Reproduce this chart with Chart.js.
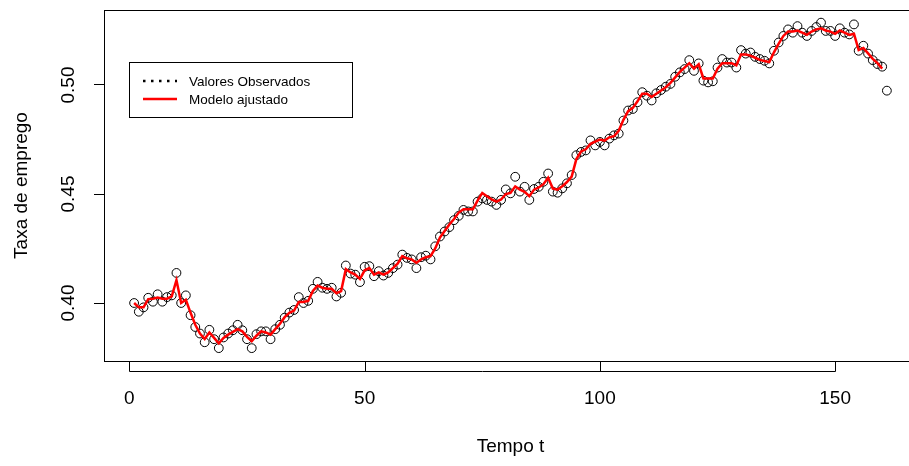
<!DOCTYPE html>
<html>
<head>
<meta charset="utf-8">
<script src="https://cdn.jsdelivr.net/npm/chart.js@4.4.1/dist/chart.umd.min.js"></script>
<style>
html, body { margin: 0; padding: 0; background: #fff; overflow: hidden; }
#wrap { width: 930px; height: 466px; }
</style>
</head>
<body>
<div id="wrap"><canvas id="chart" width="930" height="466"></canvas></div>
<script>
// taxa de emprego observada, t = 1..161
const observados = [
    0.4000, 0.3960, 0.3980, 0.4024, 0.4006, 0.4040, 0.4006, 0.4027, 0.4035, 0.4138,
    0.4000, 0.4035, 0.3944, 0.3890, 0.3860, 0.3820, 0.3877, 0.3834, 0.3793, 0.3842,
    0.3860, 0.3875, 0.3900, 0.3875, 0.3834, 0.3793, 0.3857, 0.3870, 0.3870, 0.3834,
    0.3880, 0.3900, 0.3933, 0.3956, 0.3968, 0.4027, 0.4000, 0.4010, 0.4065, 0.4097,
    0.4070, 0.4065, 0.4070, 0.4030, 0.4047, 0.4172, 0.4135, 0.4130, 0.4096, 0.4166,
    0.4169, 0.4123, 0.4146, 0.4126, 0.4138, 0.4160, 0.4176, 0.4222, 0.4207, 0.4200,
    0.4160, 0.4210, 0.4217, 0.4200, 0.4260, 0.4305, 0.4328, 0.4348, 0.4380, 0.4400,
    0.4427, 0.4420, 0.4420, 0.4465, 0.4480, 0.4473, 0.4465, 0.4450, 0.4473, 0.4521,
    0.4503, 0.4579, 0.4511, 0.4533, 0.4473, 0.4523, 0.4533, 0.4556, 0.4594, 0.4511,
    0.4506, 0.4526, 0.4549, 0.4587, 0.4678, 0.4693, 0.4700, 0.4746, 0.4723, 0.4739,
    0.4723, 0.4754, 0.4769, 0.4777, 0.4837, 0.4883, 0.4890, 0.4921, 0.4967, 0.4951,
    0.4929, 0.4962, 0.4977, 0.4992, 0.5005, 0.5038, 0.5058, 0.5073, 0.5114, 0.5065,
    0.5099, 0.5020, 0.5012, 0.5017, 0.5080, 0.5119, 0.5103, 0.5103, 0.5080, 0.5160,
    0.5144, 0.5149, 0.5129, 0.5119, 0.5111, 0.5099, 0.5157, 0.5195, 0.5225, 0.5255,
    0.5240, 0.5270, 0.5240, 0.5225, 0.5248, 0.5266, 0.5286, 0.5248, 0.5248, 0.5225,
    0.5260, 0.5240, 0.5232, 0.5278, 0.5157, 0.5180, 0.5144, 0.5114, 0.5096, 0.5084,
    0.4974
];

// modelo ajustado, t = 1..160 (a linha termina antes do ultimo ponto)
const ajustado = [
    0.4000, 0.3980, 0.3980, 0.4018, 0.4020, 0.4025, 0.4020, 0.4020, 0.4030, 0.4105,
    0.4000, 0.4015, 0.3955, 0.3900, 0.3860, 0.3835, 0.3865, 0.3840, 0.3815, 0.3840,
    0.3855, 0.3868, 0.3880, 0.3870, 0.3845, 0.3825, 0.3850, 0.3870, 0.3865, 0.3855,
    0.3880, 0.3905, 0.3935, 0.3955, 0.3965, 0.4005, 0.4005, 0.4010, 0.4055, 0.4080,
    0.4070, 0.4065, 0.4065, 0.4045, 0.4055, 0.4155, 0.4140, 0.4130, 0.4110, 0.4150,
    0.4160, 0.4130, 0.4140, 0.4130, 0.4140, 0.4160, 0.4180, 0.4215, 0.4205, 0.4200,
    0.4185, 0.4200, 0.4210, 0.4215, 0.4250, 0.4300, 0.4330, 0.4360, 0.4385, 0.4415,
    0.4430, 0.4430, 0.4430, 0.4470, 0.4505, 0.4490, 0.4475, 0.4465, 0.4475, 0.4500,
    0.4505, 0.4535, 0.4520, 0.4510, 0.4490, 0.4520, 0.4530, 0.4545, 0.4575, 0.4525,
    0.4520, 0.4535, 0.4555, 0.4580, 0.4660, 0.4695, 0.4705, 0.4730, 0.4740, 0.4750,
    0.4745, 0.4760, 0.4765, 0.4790, 0.4840, 0.4880, 0.4895, 0.4925, 0.4960, 0.4960,
    0.4945, 0.4960, 0.4975, 0.4990, 0.5010, 0.5035, 0.5060, 0.5080, 0.5100, 0.5075,
    0.5095, 0.5030, 0.5030, 0.5030, 0.5075, 0.5100, 0.5100, 0.5100, 0.5090, 0.5140,
    0.5140, 0.5135, 0.5125, 0.5115, 0.5110, 0.5105, 0.5150, 0.5190, 0.5225, 0.5245,
    0.5245, 0.5250, 0.5240, 0.5230, 0.5245, 0.5255, 0.5260, 0.5250, 0.5245, 0.5235,
    0.5250, 0.5240, 0.5230, 0.5235, 0.5160, 0.5170, 0.5145, 0.5120, 0.5100, 0.5075
];

const xTicks = [0, 50, 100, 150];
const yTicks = [0.40, 0.45, 0.50];
const yTickLabels = ["0.40", "0.45", "0.50"];
const legendLabels = ["Valores Observados", "Modelo ajustado"];

const FONT = "'Liberation Sans', Arial, sans-serif";

// caixa em volta da area do grafico, eixos estilo R e legenda
const rStyle = {
    id: "rStyle",
    afterDraw(chart) {
        const ctx = chart.ctx;
        const area = chart.chartArea;
        const xs = chart.scales.x;
        const ys = chart.scales.y;

        ctx.save();
        ctx.strokeStyle = "#000";
        ctx.lineWidth = 1;
        ctx.strokeRect(Math.round(area.left) + 0.5, Math.round(area.top) + 0.5,
            Math.round(area.right - area.left), Math.round(area.bottom - area.top));

        // eixo x
        let axisY = 371.5;
        let x0 = Math.round(xs.getPixelForValue(xTicks[0])) + 0.5;
        let x1 = Math.round(xs.getPixelForValue(xTicks[xTicks.length - 1])) + 0.5;
        ctx.beginPath();
        ctx.moveTo(x0, axisY);
        ctx.lineTo(x1, axisY);
        for (let v of xTicks) {
            let px = Math.round(xs.getPixelForValue(v)) + 0.5;
            ctx.moveTo(px, axisY);
            ctx.lineTo(px, 362);
        }
        ctx.stroke();

        // rotulos do eixo y
        ctx.fillStyle = "#000";
        ctx.font = "19px " + FONT;
        ctx.textAlign = "center";
        ctx.textBaseline = "middle";
        for (let i = 0; i < yTicks.length; i++) {
            let py = ys.getPixelForValue(yTicks[i]);
            ctx.save();
            ctx.translate(69, py);
            ctx.rotate(-Math.PI / 2);
            ctx.fillText(yTickLabels[i], 0, 0);
            ctx.restore();
        }

        // legenda
        ctx.lineWidth = 1;
        ctx.strokeRect(129.5, 62.5, 223, 55);
        ctx.font = "13.5px " + FONT;
        ctx.textAlign = "left";
        const rows = [81, 99];
        chart.data.datasets.forEach((ds, i) => {
            ctx.beginPath();
            ctx.strokeStyle = ds.legendColor;
            ctx.lineWidth = 2.5;
            ctx.setLineDash(i == 0 ? [2.5, 5.5] : []);
            ctx.moveTo(143, rows[i]);
            ctx.lineTo(177, rows[i]);
            ctx.stroke();
            ctx.setLineDash([]);
            ctx.fillText(ds.label, 189, rows[i] + 1);
        });
        ctx.restore();
    },
};

const config = {
    type: "line",
    data: {
        datasets: [
            {
                label: legendLabels[0],
                data: observados.map((v, i) => ({ x: i + 1, y: v })),
                showLine: false,
                pointStyle: "circle",
                pointRadius: 4.4,
                pointBorderWidth: 1,
                pointBorderColor: "#000",
                pointBackgroundColor: "rgba(0,0,0,0)",
                legendColor: "#000",
                order: 1,
            },
            {
                label: legendLabels[1],
                data: ajustado.map((v, i) => ({ x: i + 1, y: v })),
                borderColor: "#ff0000",
                borderWidth: 2.5,
                pointRadius: 0,
                tension: 0,
                legendColor: "#ff0000",
                order: 0,
            },
        ],
    },
    options: {
        responsive: false,
        animation: false,
        events: [],
        layout: {
            padding: { top: 10, right: 13, left: 0, bottom: 0 },
        },
        plugins: {
            legend: { display: false },
            tooltip: { enabled: false },
        },
        scales: {
            x: {
                type: "linear",
                min: -5.4,
                max: 167.4,
                afterBuildTicks: (axis) => {
                    axis.ticks = xTicks.map((v) => ({ value: v }));
                },
                afterFit: (axis) => {
                    axis.height = 105;
                },
                grid: { display: false, drawTicks: false },
                border: { display: false },
                ticks: {
                    color: "#000",
                    font: { family: FONT, size: 19 },
                    padding: 26,
                    maxRotation: 0,
                },
                title: {
                    display: true,
                    text: "Tempo t",
                    color: "#000",
                    font: { family: FONT, size: 19 },
                    padding: { top: 0, bottom: 7.6 },
                },
            },
            y: {
                type: "linear",
                min: 0.3734,
                max: 0.5344,
                afterBuildTicks: (axis) => {
                    axis.ticks = yTicks.map((v) => ({ value: v }));
                },
                afterFit: (axis) => {
                    axis.width = 104;
                },
                grid: {
                    drawOnChartArea: false,
                    drawTicks: true,
                    tickLength: 10,
                    color: "#000",
                    lineWidth: 1,
                },
                border: { display: false },
                ticks: { display: false },
                title: {
                    display: true,
                    text: "Taxa de emprego",
                    color: "#000",
                    font: { family: FONT, size: 19 },
                    padding: { top: 10.6, bottom: 0 },
                },
            },
        },
    },
    plugins: [rStyle],
};

new Chart(document.getElementById("chart"), config);
</script>
</body>
</html>
